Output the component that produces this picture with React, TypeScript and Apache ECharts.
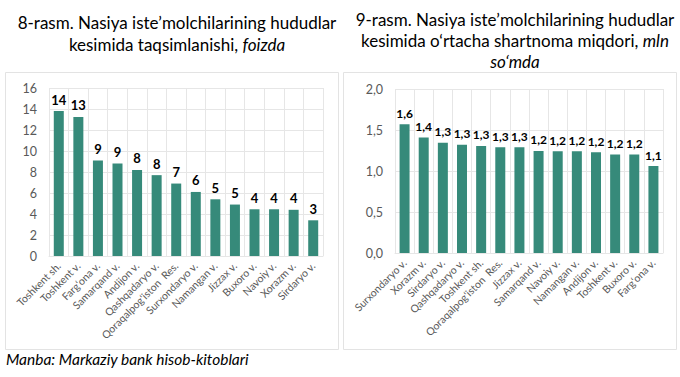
import React, { useEffect, useRef } from "react";
import * as echarts from "echarts";

const leftCategories = [
  "Toshkent sh.", "Toshkent v.", "Farg‘ona v.", "Samarqand v.", "Andijon v.",
  "Qashqadaryo v.", "Qoraqalpog‘iston  Res.", "Surxondaryo v.", "Namangan v.",
  "Jizzax v.", "Buxoro v.", "Navoiy v.", "Xorazm v.", "Sirdaryo v.",
];
const leftValues = [13.8, 13.25, 9.1, 8.8, 8.2, 7.7, 6.9, 6.1, 5.4, 4.9, 4.45, 4.45, 4.4, 3.4];
const leftTicks = { min: 0, max: 16, interval: 2 };

const rightCategories = [
  "Surxondaryo v.", "Xorazm v.", "Sirdaryo v.", "Qashqadaryo v.", "Toshkent sh.",
  "Qoraqalpog‘iston  Res.", "Jizzax v.", "Samarqand v.", "Navoiy v.", "Namangan v.",
  "Andijon v.", "Toshkent v.", "Buxoro v.", "Farg‘ona v.",
];
const rightValues = [1.57, 1.41, 1.345, 1.32, 1.305, 1.29, 1.29, 1.245, 1.24, 1.24, 1.23, 1.2, 1.2, 1.06];
const rightTicks = { min: 0, max: 2, interval: 0.5 };

const leftTitle = "8-rasm. Nasiya iste’molchilarining hududlar\nkesimida taqsimlanishi, {i|foizda}";
const rightTitle = "9-rasm. Nasiya iste’molchilarining hududlar\nkesimida o‘rtacha shartnoma miqdori, {i|mln}\n{i|so‘mda}";
const sourceText = "Manba: Markaziy bank hisob-kitoblari";

const FONT = "Lato, 'Open Sans', sans-serif";
const BAR = "#368a7a";
const GRID = "#e6e6e6";

export default function App() {
  const ref = useRef<HTMLDivElement>(null);
  useEffect(() => {
    if (!ref.current) return;
    const chart = echarts.init(ref.current, null, { renderer: "svg" });
    const comma1 = (v: number) => v.toFixed(1).replace(".", ",");
    const xAxisCommon = (data: string[], gridIndex: number) => ({
      type: "category" as const,
      gridIndex,
      data,
      axisTick: { show: false },
      axisLine: { show: true, lineStyle: { color: GRID } },
      splitLine: { show: true, interval: 0, lineStyle: { color: GRID } },
      axisLabel: { interval: 0, rotate: 45, fontSize: 10.5, color: "#595959", fontFamily: FONT, margin: 8 },
    });
    const titleStyle = (lh: number) => ({
      fontSize: 17,
      fontWeight: "normal" as const,
      color: "#000",
      fontFamily: FONT,
      lineHeight: lh,
      rich: { i: { fontStyle: "italic" as const, fontSize: 17, fontFamily: FONT, color: "#000", lineHeight: lh } },
    });
    chart.setOption({
      animation: false,
      backgroundColor: "#fff",
      title: [
        { text: leftTitle, left: 172, top: 6, textAlign: "center", textStyle: titleStyle(22) },
        { text: rightTitle, left: 510, top: 4, textAlign: "center", textStyle: titleStyle(21) },
      ],
      graphic: [
        { type: "rect", z: -10, shape: { x: 5.5, y: 72.5, width: 333, height: 277 }, style: { fill: "#fff", stroke: "#e3e3e3", lineWidth: 1 } },
        { type: "rect", z: -10, shape: { x: 343.5, y: 72.5, width: 333, height: 277 }, style: { fill: "#fff", stroke: "#e3e3e3", lineWidth: 1 } },
        { type: "text", x: 6, y: 359, style: { text: sourceText, fontSize: 15.5, fontStyle: "italic", fontFamily: FONT, fill: "#000", verticalAlign: "middle" } },
      ],
      grid: [
        { left: 49, right: 357, top: 88, bottom: 121 },
        { left: 395, right: 17, top: 89, bottom: 124 },
      ],
      xAxis: [xAxisCommon(leftCategories, 0), xAxisCommon(rightCategories, 1)],
      yAxis: [
        {
          type: "value", gridIndex: 0, ...leftTicks,
          axisLine: { show: false }, axisTick: { show: false },
          splitLine: { lineStyle: { color: GRID } },
          axisLabel: { fontSize: 12.5, color: "#595959", fontFamily: FONT, margin: 12 },
        },
        {
          type: "value", gridIndex: 1, ...rightTicks,
          axisLine: { show: false }, axisTick: { show: false },
          splitLine: { lineStyle: { color: GRID } },
          axisLabel: { fontSize: 12.5, color: "#595959", fontFamily: FONT, margin: 12, formatter: (v: number) => comma1(v) },
        },
      ],
      series: [
        {
          type: "bar", xAxisIndex: 0, yAxisIndex: 0, data: leftValues, barWidth: 10,
          itemStyle: { color: BAR },
          label: { show: true, position: "top", distance: 5, fontSize: 13, fontWeight: "bold", color: "#000", fontFamily: FONT, formatter: (p: any) => String(Math.round(p.value)) },
        },
        {
          type: "bar", xAxisIndex: 1, yAxisIndex: 1, data: rightValues, barWidth: 10,
          itemStyle: { color: BAR },
          label: { show: true, position: "top", distance: 5, fontSize: 12, fontWeight: "bold", color: "#000", fontFamily: FONT, formatter: (p: any) => comma1(p.value) },
        },
      ],
    });
    return () => chart.dispose();
  }, []);
  return <div ref={ref} style={{ position: "fixed", left: 0, top: 0, width: 680, height: 377 }} />;
}
